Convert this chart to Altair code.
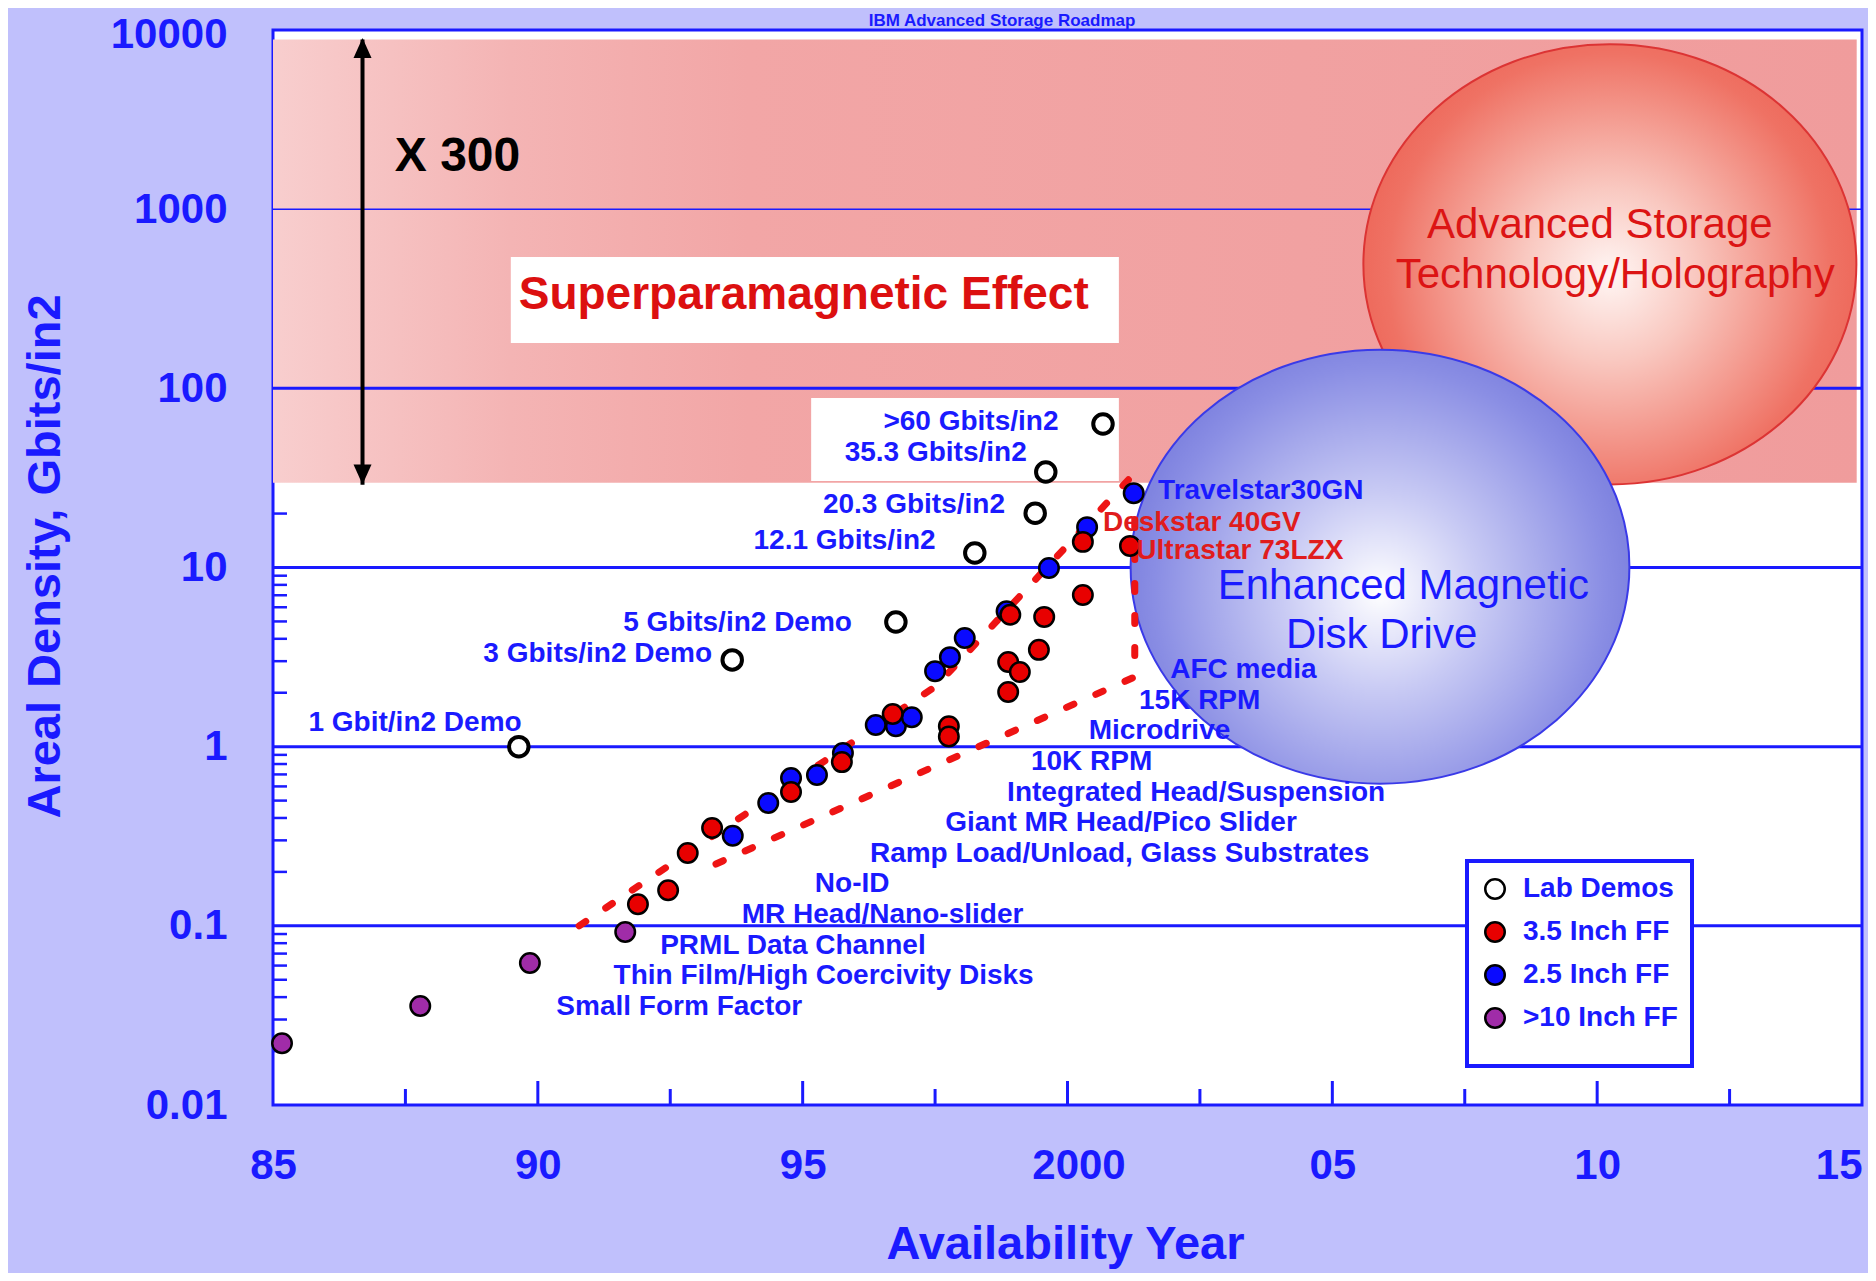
import altair as alt
import pandas as pd

# ---------------- data arrays ----------------
x_tick_values = [1985, 1990, 1995, 2000, 2005, 2010, 2015]
x_tick_labels = ["85", "90", "95", "2000", "05", "10", "15"]
x_major_inner = [1990, 1995, 2000, 2005, 2010]
x_minor_inner = [1987.5, 1992.5, 1997.5, 2002.5, 2007.5, 2012.5]
y_tick_values = [0.01, 0.1, 1, 10, 100, 1000, 10000]
y_tick_labels = ["0.01", "0.1", "1", "10", "100", "1000", "10000"]
y_minor_values = [0.02, 0.03, 0.04, 0.05, 0.06, 0.07, 0.08, 0.09,
                  0.2, 0.3, 0.4, 0.5, 0.6, 0.7, 0.8, 0.9,
                  2, 3, 4, 5, 6, 7, 8, 9, 20]
grid_thick = [0.1, 1, 10, 100]
grid_thin = [1000]

series_types = ["Lab Demos", "3.5 Inch FF", "2.5 Inch FF", ">10 Inch FF"]
series_colors = ["#ffffff", "#e80000", "#0a0aff", "#a02ca8"]

lab_year = [1989.64, 1993.67, 1996.76, 1998.25, 1999.39, 1999.59, 2000.67]
lab_density = [1.0, 3.05, 4.96, 12.05, 20.1, 34.1, 63.2]

ff10_year = [1985.17, 1987.78, 1989.85, 1991.65]
ff10_density = [0.0221, 0.0357, 0.0621, 0.0924]

ff25_year = [1993.68, 1994.35, 1994.78, 1995.27, 1995.76, 1996.38, 1996.76, 1997.06,
             1997.50, 1997.78, 1998.06, 1998.85, 1999.65, 2000.37, 2001.25]
ff25_density = [0.318, 0.485, 0.668, 0.695, 0.922, 1.32, 1.30, 1.46,
                2.64, 3.16, 4.04, 5.7, 9.94, 16.8, 26.0]

ff35_year = [1991.89, 1992.46, 1992.83, 1993.29, 1994.78, 1995.74, 1996.70, 1997.76,
             1997.76, 1998.92, 1999.56, 1999.46, 1998.88, 1999.10, 1998.88, 2000.29,
             2000.29, 2001.18]
ff35_density = [0.132, 0.158, 0.255, 0.352, 0.558, 0.82, 1.52, 1.30,
                1.14, 5.45, 5.3, 3.47, 2.97, 2.61, 2.02, 7.03,
                13.9, 13.2]

trend_year = [1990.78, 1997.52, 2001.27, 2001.27, 1993.19]
trend_density = [0.1, 2.18, 33.7, 2.45, 0.21]

region_year = [1985.0, 2014.9]
region_density = [29.7, 8850]
box_super_year = [1989.49, 2000.97]
box_super_density = [179, 541]
box_labels_year = [1995.16, 2000.97]
box_labels_density = [30.4, 88.3]

arrow_year = [1986.69]
arrow_density = [8850, 29]
arrow_head_density = [7930, 33.0]

ellipse_red_center = [2010.24, 492]
ellipse_blue_center = [2005.90, 10.1]

blue_left_text = ["1 Gbit/in2 Demo", "Travelstar30GN", "AFC media", "15K RPM", "Microdrive",
                  "10K RPM", "Integrated Head/Suspension", "Giant MR Head/Pico Slider",
                  "Ramp Load/Unload, Glass Substrates", "No-ID", "MR Head/Nano-slider",
                  "PRML Data Channel", "Thin Film/High Coercivity Disks", "Small Form Factor"]
blue_left_year = [1985.67, 2001.71, 2001.94, 2001.35, 2000.40, 1999.31, 1998.86, 1997.69,
                  1996.27, 1995.23, 1993.85, 1992.31, 1991.43, 1990.35]
blue_left_density = [1.36, 26.9, 2.68, 1.80, 1.22, 0.82, 0.55, 0.375,
                     0.252, 0.171, 0.115, 0.0769, 0.0523, 0.0351]

demo_text = ["3 Gbits/in2 Demo", "5 Gbits/in2 Demo", "12.1 Gbits/in2", "20.3 Gbits/in2",
             "35.3 Gbits/in2", ">60 Gbits/in2"]
demo_year = [1993.29, 1995.93, 1997.51, 1998.82, 1999.23, 1999.83]
demo_density = [3.27, 4.88, 14.1, 22.4, 43.3, 64.6]

red_text = ["Deskstar 40GV", "Ultrastar 73LZX"]
red_year = [2000.67, 2001.30]
red_density = [17.8, 12.3]

big_red_text = ["Advanced Storage", "Technology/Holography"]
big_red_year = [2010.05, 2010.34]
big_red_density = [817, 429]

big_blue_text = ["Enhanced Magnetic", "Disk Drive"]
big_blue_year = [2006.34, 2005.93]
big_blue_density = [7.87, 4.18]

super_text = ["Superparamagnetic Effect"]
super_year = [1995.02]
super_density = [330]

x300_text = ["X 300"]
x300_year = [1987.30]
x300_density = [1963]

title_text = "IBM Advanced Storage Roadmap"

# ---------------- styling ----------------
BLUE = "#1a1aff"
FONT = "Liberation Sans, Arial, sans-serif"
W, H = 1589, 1075

xs = alt.Scale(domain=[1985, 2015], nice=False, zero=False)
ys = alt.Scale(type="log", domain=[0.01, 10000], nice=False)

x_label_expr = "%s[indexof(%s, datum.value)]" % (
    "[" + ",".join("'%s'" % s for s in x_tick_labels) + "]",
    "[" + ",".join(str(v) for v in x_tick_values) + "]")
y_label_expr = "%s[indexof(%s, datum.value)]" % (
    "[" + ",".join("'%s'" % s for s in y_tick_labels) + "]",
    "[" + ",".join(repr(v) for v in y_tick_values) + "]")

x_axis = alt.Axis(values=x_tick_values, labelExpr=x_label_expr, ticks=False, tickSize=0,
                  domain=False, grid=False, labelFont=FONT, labelFontSize=42,
                  labelFontWeight="bold", labelColor=BLUE, labelPadding=40,
                  labelAlign={"condition": {"test": "datum.value == 2015", "value": "right"},
                              "value": "center"},
                  labelOffset={"condition": {"test": "datum.value == 2000", "value": 11},
                               "value": 0},
                  title="Availability Year", titleFont=FONT, titleFontSize=47,
                  titleFontWeight="bold", titleColor=BLUE, titleX=792, titleY=139,
                  titleBaseline="middle", titleAlign="center")
y_axis = alt.Axis(values=y_tick_values, labelExpr=y_label_expr, ticks=False, tickSize=0,
                  domain=False, grid=False, labelFont=FONT, labelFontSize=42,
                  labelFontWeight="bold", labelColor=BLUE, labelPadding=46,
                  labelOffset={"condition": {"test": "datum.value == 10000", "value": 4},
                               "value": 0},
                  title="Areal Density, Gbits/in2", titleFont=FONT, titleFontSize=47,
                  titleFontWeight="bold", titleColor=BLUE, titleAngle=270,
                  titleX=-228, titleY=526, titleBaseline="middle", titleAlign="center")


def X(f):
    return alt.X(f, type="quantitative", scale=xs, axis=x_axis)


def Y(f):
    return alt.Y(f, type="quantitative", scale=ys, axis=y_axis)


def df(**cols):
    return pd.DataFrame(cols)


# red superparamagnetic region
region = alt.Chart(df(x0=[region_year[0]], x1=[region_year[1]],
                      y0=[region_density[0]], y1=[region_density[1]])).mark_rect(
    fill=alt.Gradient(gradient="linear",
                      stops=[alt.GradientStop(color="#f8cece", offset=0),
                             alt.GradientStop(color="#f4b4b4", offset=0.15),
                             alt.GradientStop(color="#f2a6a6", offset=0.3),
                             alt.GradientStop(color="#f09c9c", offset=1)],
                      x1=0, x2=1, y1=0, y2=0),
    strokeWidth=0
).encode(x=X("x0"), x2="x1", y=Y("y0"), y2="y1")

boxes = alt.Chart(df(x0=[box_super_year[0], box_labels_year[0]],
                     x1=[box_super_year[1], box_labels_year[1]],
                     y0=[box_super_density[0], box_labels_density[0]],
                     y1=[box_super_density[1], box_labels_density[1]])).mark_rect(
    color="white").encode(x=X("x0"), x2="x1", y=Y("y0"), y2="y1")

grid1 = alt.Chart(df(v=grid_thick)).mark_rule(color=BLUE, strokeWidth=3).encode(y=Y("v"))
grid2 = alt.Chart(df(v=grid_thin)).mark_rule(color=BLUE, strokeWidth=1.5).encode(y=Y("v"))

yminor = alt.Chart(df(v=y_minor_values)).mark_rule(color=BLUE, strokeWidth=2.5).encode(
    y=Y("v"), x=alt.value(0), x2=alt.value(14))
xmajor = alt.Chart(df(v=x_major_inner)).mark_rule(color=BLUE, strokeWidth=3).encode(
    x=X("v"), y=alt.value(H), y2=alt.value(H - 24))
xminor = alt.Chart(df(v=x_minor_inner)).mark_rule(color=BLUE, strokeWidth=3).encode(
    x=X("v"), y=alt.value(H), y2=alt.value(H - 16))

ell_red = alt.Chart(df(x=[ellipse_red_center[0]], y=[ellipse_red_center[1]])).mark_point(
    shape="M-1,0A1,0.893 0 1,1 1,0A1,0.893 0 1,1 -1,0Z", size=243049, filled=True, opacity=1,
    fill=alt.Gradient(gradient="radial",
                      stops=[alt.GradientStop(color="#fff6f4", offset=0),
                             alt.GradientStop(color="#f9c8c0", offset=0.35),
                             alt.GradientStop(color="#ef7264", offset=0.9),
                             alt.GradientStop(color="#ee6a5c", offset=1)],
                      x1=0.5, y1=0.52, r1=0, x2=0.5, y2=0.52, r2=0.5),
    stroke="#dc3434", strokeWidth=2).encode(x=X("x"), y=Y("y"))

ell_blue = alt.Chart(df(x=[ellipse_blue_center[0]], y=[ellipse_blue_center[1]])).mark_point(
    shape="M-1,0A1,0.870 0 1,1 1,0A1,0.870 0 1,1 -1,0Z", size=248801, filled=True, opacity=1,
    fill=alt.Gradient(gradient="radial",
                      stops=[alt.GradientStop(color="#ffffff", offset=0),
                             alt.GradientStop(color="#c8caf4", offset=0.4),
                             alt.GradientStop(color="#8a8ee4", offset=0.9),
                             alt.GradientStop(color="#8084e0", offset=1)],
                      x1=0.5, y1=0.55, r1=0, x2=0.5, y2=0.55, r2=0.5),
    stroke="#3a3ae8", strokeWidth=2).encode(x=X("x"), y=Y("y"))

trend = alt.Chart(df(x=trend_year, y=trend_density, i=list(range(len(trend_year))))).mark_line(
    color="#ee1414", strokeWidth=7, strokeDash=[8, 24], strokeCap="round").encode(
    x=X("x"), y=Y("y"), order="i:Q")

arrow = alt.Chart(df(x=arrow_year, y0=[arrow_density[0]], y1=[arrow_density[1]])).mark_rule(
    color="black", strokeWidth=4).encode(x=X("x"), y=Y("y0"), y2="y1")
head_up = alt.Chart(df(x=arrow_year, y=[arrow_head_density[0]])).mark_point(
    shape="M0,-1L0.9,1L-0.9,1Z", size=400, filled=True, color="black", opacity=1).encode(
    x=X("x"), y=Y("y"))
head_down = alt.Chart(df(x=arrow_year, y=[arrow_head_density[1]])).mark_point(
    shape="M0,1L0.9,-1L-0.9,-1Z", size=400, filled=True, color="black", opacity=1).encode(
    x=X("x"), y=Y("y"))

# points
pts = pd.concat([
    df(year=lab_year, density=lab_density, type=series_types[0]),
    df(year=ff10_year, density=ff10_density, type=series_types[3]),
    df(year=ff25_year, density=ff25_density, type=series_types[2]),
    df(year=ff35_year, density=ff35_density, type=series_types[1]),
], ignore_index=True)

legend = alt.Legend(orient="none", legendX=1194, legendY=831, fillColor="white",
                    strokeColor=BLUE, padding=14, rowPadding=13,
                    labelFont=FONT, labelFontSize=28, labelFontWeight="bold", labelColor=BLUE,
                    labelOffset=14, symbolType="circle", symbolSize=380,
                    symbolStrokeColor="black", symbolStrokeWidth=2.5,
                    title="\u00a0" * 76, titleOrient="bottom", titleFontSize=10,
                    titlePadding=9)

points = alt.Chart(pts).mark_point(filled=True, size=380, stroke="black", opacity=1).encode(
    x=X("year"),
    y=Y("density"),
    color=alt.Color("type:N", scale=alt.Scale(domain=series_types, range=series_colors),
                    legend=legend),
    strokeWidth=alt.condition(alt.datum.type == "Lab Demos", alt.value(4), alt.value(2.5)),
)


def text_layer(texts, years, dens, align, color, size, weight="bold"):
    return alt.Chart(df(t=texts, x=years, y=dens)).mark_text(
        align=align, baseline="middle", font=FONT, fontSize=size, fontWeight=weight,
        color=color).encode(x=X("x"), y=Y("y"), text="t:N")


t_blue_left = text_layer(blue_left_text, blue_left_year, blue_left_density, "left", BLUE, 28)
t_demo = text_layer(demo_text, demo_year, demo_density, "right", BLUE, 28)
t_red = text_layer(red_text, red_year, red_density, "left", "#e01c1c", 28)
t_big_red = text_layer(big_red_text, big_red_year, big_red_density, "center", "#dc1414", 42,
                       "normal")
t_big_blue = text_layer(big_blue_text, big_blue_year, big_blue_density, "center", BLUE, 42,
                        "normal")
t_super = text_layer(super_text, super_year, super_density, "center", "#dc1010", 46)
t_x300 = text_layer(x300_text, x300_year, x300_density, "left", "black", 48)

t_title = alt.Chart(df(t=[title_text])).mark_text(
    align="center", baseline="alphabetic", font=FONT, fontSize=17, fontWeight="bold",
    color=BLUE).encode(x=alt.value(729), y=alt.value(-4), text="t:N")

chart = alt.layer(
    region, boxes, grid1, grid2, yminor, xmajor, xminor,
    ell_red, ell_blue, trend, arrow, head_up, head_down, points,
    t_blue_left, t_demo, t_red, t_big_red, t_big_blue, t_super, t_x300, t_title
).properties(
    width=W, height=H,
    autosize=alt.AutoSizeParams(type="none"),
    padding={"left": 265, "top": 22, "right": 6, "bottom": 168},
    background="#c0c0fc",
).configure_view(
    fill="white", stroke=BLUE, strokeWidth=3
).configure_legend(strokeWidth=4)

chart.save("out.html", embed_options={"renderer": "svg", "actions": False})
